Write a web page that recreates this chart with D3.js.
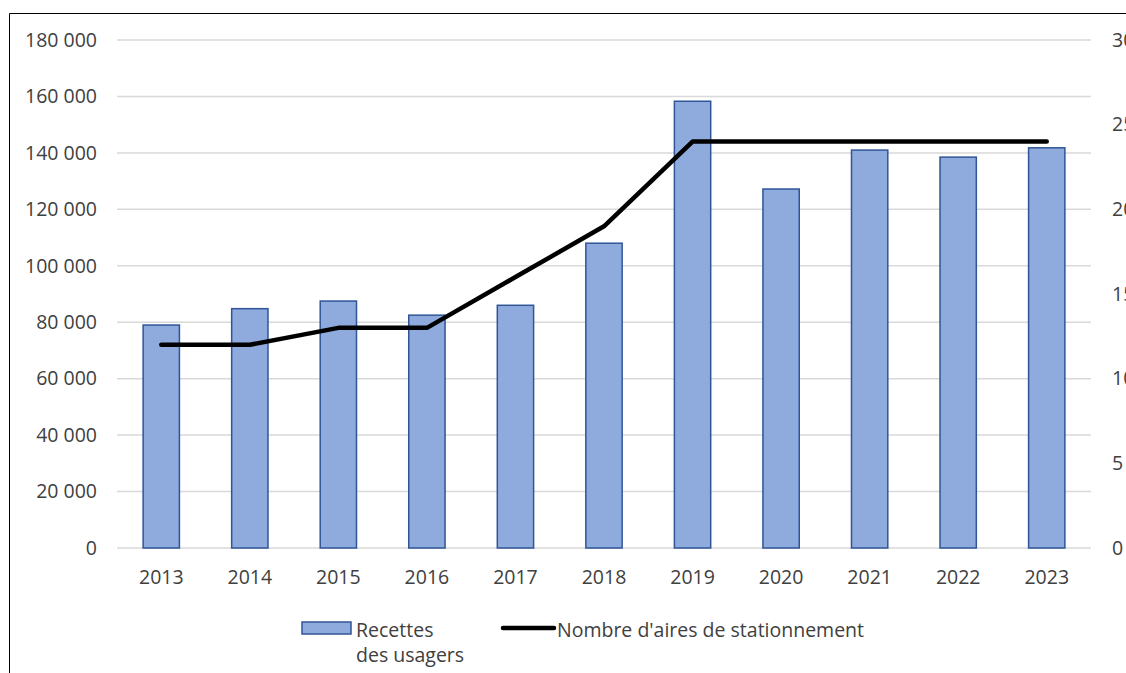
<!DOCTYPE html>
<html><head><meta charset="utf-8">
<script src="https://cdn.jsdelivr.net/npm/d3@7"></script>
<style>body{margin:0;background:#fff;overflow:hidden}text{font-family:"Open Sans",sans-serif;fill:#404040}</style>
</head><body><svg id="c" width="1126" height="673"></svg>
<script>
const years = ["2013","2014","2015","2016","2017","2018","2019","2020","2021","2022","2023"];
const recettes = [79000, 84800, 87500, 82500, 86000, 108000, 158300, 127200, 141000, 138500, 141800];
const aires = [12, 12, 13, 13, 16, 19, 24, 24, 24, 24, 24];
const leftTicks = [0,20000,40000,60000,80000,100000,120000,140000,160000,180000];
const rightTicks = [0,5,10,15,20,25,30];
const seriesNames = ["Recettes", "des usagers", "Nombre d'aires de stationnement"];

const FS = 19.5;
const svg = d3.select("#c");
const L = 117, R = 1091, T = 40, B = 548;
const x = d3.scaleBand().domain(years).range([L, R]).paddingInner(0.59).paddingOuter(0.295);
const y = d3.scaleLinear().domain([0,180000]).range([B, T]);
const y2 = d3.scaleLinear().domain([0,30]).range([B, T]);
const fmt = v => d3.format(",")(v).replace(/,/g, " ");

// frame
svg.append("path").attr("d","M9.5,673 V13.5 H1126").attr("fill","none").attr("stroke","#000").attr("stroke-width",1);

// grid
svg.append("g").selectAll("line").data(leftTicks).join("line")
  .attr("x1", L).attr("x2", R).attr("y1", d=>y(d)).attr("y2", d=>y(d))
  .attr("stroke","#d9d9d9").attr("stroke-width",1.5);

function styleText(g){
  g.select(".domain").remove();
  g.selectAll("text").attr("font-size",FS).attr("fill","#404040").style("font-family","'Open Sans',sans-serif");
}
// left axis labels
svg.append("g").attr("transform",`translate(${97},0)`)
  .call(d3.axisLeft(y).tickValues(leftTicks).tickFormat(fmt).tickSize(0).tickPadding(0)).call(styleText);

// right axis labels
svg.append("g").attr("transform",`translate(${1112},0)`)
  .call(d3.axisRight(y2).tickValues(rightTicks).tickSize(0).tickPadding(0)).call(styleText);

// x axis labels
const gx = svg.append("g").attr("transform",`translate(0,${577})`)
  .call(d3.axisBottom(x).tickSize(0).tickPadding(0)).call(styleText);
gx.selectAll("text").attr("dy","0.35em");

// bars
svg.append("g").selectAll("rect").data(years).join("rect")
  .attr("x", d=>x(d)).attr("width", x.bandwidth())
  .attr("y", (d,i)=>y(recettes[i])).attr("height",(d,i)=>B - y(recettes[i]))
  .attr("fill","#8faadc").attr("stroke","#2f5597").attr("stroke-width",1.5);

// line
const line = d3.line().x((d,i)=>x(years[i]) + x.bandwidth()/2).y(d=>y2(d));
svg.append("path").datum(aires).attr("d", line)
  .attr("fill","none").attr("stroke","#000").attr("stroke-width",4.5)
  .attr("stroke-linejoin","round").attr("stroke-linecap","round");

// legend
const lg = svg.append("g");
lg.append("rect").attr("x",302).attr("y",622).attr("width",49).attr("height",12)
  .attr("fill","#8faadc").attr("stroke","#2f5597").attr("stroke-width",1.5);
lg.append("text").attr("x",356).attr("y",637).attr("font-size",FS).text(seriesNames[0]);
lg.append("text").attr("x",356).attr("y",662).attr("font-size",FS).text(seriesNames[1]);
lg.append("line").attr("x1",503).attr("x2",554).attr("y1",628).attr("y2",628)
  .attr("stroke","#000").attr("stroke-width",4.5).attr("stroke-linecap","round");
lg.append("text").attr("x",557).attr("y",637).attr("font-size",FS).text(seriesNames[2]);
</script></body></html>
